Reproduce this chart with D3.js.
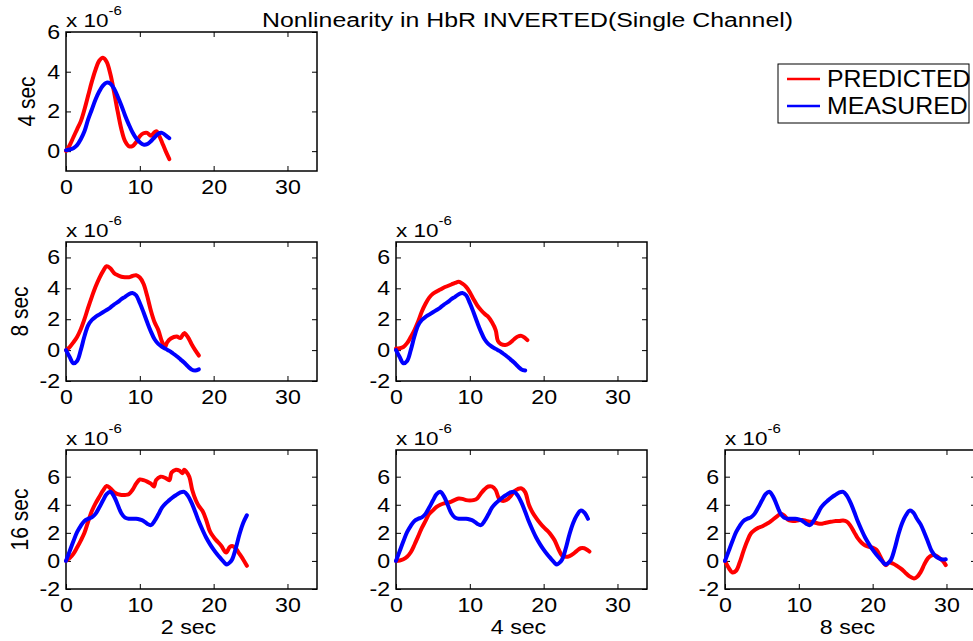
<!DOCTYPE html>
<html>
<head>
<meta charset="utf-8">
<script src="https://cdn.jsdelivr.net/npm/d3@7"></script>
<style>
  body { margin: 0; background: #fff; }
  text { font-family: "Liberation Sans", Arial, sans-serif; fill: #000; }
</style>
</head>
<body>
<script>
// row / column labels
let rowLabels = ['4 sec', '8 sec', '16 sec'];
let colLabels = ['2 sec', '4 sec', '8 sec'];
let xTicks = [0, 10, 20, 30];
let yTicksByRow = [[0, 2, 4, 6], [-2, 0, 2, 4, 6], [-2, 0, 2, 4, 6]];
let seriesNames = ['PREDICTED', 'MEASURED'];

// [time (s), value (x 1e-6)]
let pred4 = [[0,0],[0.5,0.3],[1,0.7],[1.5,1.1],[2,1.5],[2.5,2.1],[3,2.8],[3.5,3.5],[4,4.1],[4.5,4.55],[5,4.7],[5.5,4.5],[6,3.9],[6.5,3.0],[7,2.0],[7.5,1.1],[8,0.5],[8.5,0.25],[9,0.25],[9.5,0.45],[10,0.75],[10.5,0.9],[11,0.92],[11.5,0.78],[12,0.95],[12.3,1.0],[12.6,0.8],[13,0.45],[13.5,0.0],[14,-0.4]];
let meas4 = [[0,0.05],[0.5,0.08],[1,0.15],[1.5,0.3],[2,0.6],[2.5,1.0],[3,1.6],[3.5,2.1],[4,2.6],[4.5,3.0],[5,3.3],[5.5,3.45],[6,3.4],[6.5,3.15],[7,2.75],[7.5,2.3],[8,1.8],[8.5,1.35],[9,0.95],[9.5,0.65],[10,0.45],[10.5,0.33],[11,0.35],[11.5,0.5],[12,0.7],[12.5,0.88],[13,0.92],[13.5,0.8],[14,0.65]];

let pred8a = [[0,0],[0.5,0.2],[1,0.5],[1.5,0.85],[2,1.35],[2.5,2.0],[3,2.75],[3.5,3.45],[4,4.1],[4.5,4.65],[5,5.1],[5.5,5.43],[6,5.3],[6.5,5.0],[7,4.85],[7.5,4.75],[8,4.72],[8.5,4.72],[9,4.8],[9.5,4.85],[10,4.7],[10.5,4.3],[11,3.5],[11.5,2.55],[12,1.8],[12.5,1.3],[13,0.55],[13.4,0.2],[13.7,0.5],[14.2,0.75],[15,0.88],[15.5,0.78],[16,1.1],[16.5,0.85],[17,0.4],[17.5,0.0],[18,-0.35]];
let pred8b = [[0,0.1],[0.5,0.12],[1,0.2],[1.5,0.45],[2,0.85],[2.5,1.3],[3,1.85],[3.5,2.5],[4,3.0],[4.5,3.4],[5,3.65],[5.5,3.8],[6,3.92],[6.5,4.05],[7,4.15],[7.5,4.25],[8,4.35],[8.5,4.42],[9,4.3],[9.5,4.1],[10,3.75],[10.5,3.3],[11,2.9],[11.5,2.6],[12,2.35],[12.5,2.15],[13,1.8],[13.5,1.3],[13.8,0.6],[14.2,0.4],[14.8,0.33],[15.3,0.42],[16,0.7],[16.5,0.88],[17,0.92],[17.5,0.78],[17.8,0.65]];
let meas8 = [[0,0],[0.5,-0.45],[1,-0.85],[1.5,-0.7],[2,0.0],[2.5,0.9],[3,1.6],[3.5,1.95],[4,2.15],[4.5,2.3],[5,2.45],[5.5,2.6],[6,2.75],[6.5,2.95],[7,3.1],[7.5,3.3],[8,3.45],[8.5,3.62],[9,3.7],[9.5,3.55],[10,3.05],[10.5,2.45],[11,1.8],[11.5,1.2],[12,0.7],[12.5,0.4],[13,0.22],[13.5,0.08],[14,-0.05],[14.5,-0.22],[15,-0.4],[15.5,-0.6],[16,-0.8],[16.5,-1.05],[17,-1.25],[17.5,-1.32],[18,-1.25]];

let pred16a = [[0,0],[0.5,0.2],[1,0.5],[1.5,0.95],[2,1.45],[2.5,2.0],[3,2.8],[3.5,3.55],[4,4.1],[4.5,4.55],[5,5.0],[5.5,5.34],[6,5.17],[6.5,4.9],[7,4.75],[7.5,4.7],[8,4.7],[8.5,4.75],[9,5.05],[9.5,5.5],[10,5.8],[10.5,5.75],[11,5.65],[11.5,5.5],[11.9,5.3],[12.2,5.75],[12.8,6.0],[13.5,5.9],[14,5.75],[14.3,6.3],[14.9,6.5],[15.4,6.42],[15.8,6.25],[16,6.5],[16.3,6.35],[16.7,6.0],[17.1,5.05],[17.6,4.3],[18,3.9],[18.5,3.55],[19,2.9],[19.5,2.1],[20,1.7],[20.3,1.5],[21,1.1],[21.7,0.6],[22.2,1.0],[22.6,1.05],[23,0.9],[23.5,0.5],[24,0.1],[24.5,-0.35]];
let pred16b = [[0,0],[0.5,0.03],[1,0.12],[1.5,0.3],[2,0.62],[2.5,1.15],[3,1.75],[3.5,2.35],[4,2.85],[4.5,3.35],[5,3.6],[5.5,3.85],[6,4.0],[6.5,4.1],[7,4.15],[7.5,4.23],[8,4.35],[8.5,4.45],[9,4.42],[9.5,4.33],[10,4.3],[10.5,4.33],[11,4.45],[11.5,4.8],[12,5.1],[12.5,5.3],[13,5.3],[13.5,5.05],[13.9,4.5],[14.4,4.28],[15,4.35],[15.5,4.6],[16,4.95],[16.5,5.12],[17,5.17],[17.5,4.9],[18,4.0],[18.5,3.45],[19,3.05],[19.5,2.7],[20,2.4],[20.5,2.15],[21,1.85],[21.5,1.45],[22,0.85],[22.5,0.38],[23,0.3],[23.5,0.35],[24,0.5],[24.5,0.72],[25,0.9],[25.5,0.9],[26,0.75],[26.2,0.67]];
let pred16c = [[0,0],[0.5,-0.5],[1,-0.82],[1.5,-0.7],[2,-0.1],[2.5,0.7],[3,1.4],[3.5,1.95],[4,2.2],[4.5,2.35],[5,2.45],[5.5,2.6],[6,2.75],[6.5,2.95],[7,3.15],[7.5,3.35],[8,3.25],[8.5,2.95],[9,2.85],[9.5,2.85],[10,2.9],[10.5,2.92],[11,2.85],[11.5,2.8],[12,2.75],[12.5,2.68],[13,2.64],[13.5,2.7],[14,2.76],[14.5,2.8],[15,2.84],[15.5,2.85],[16,2.88],[16.5,2.8],[17,2.5],[17.5,2.05],[18,1.6],[18.5,1.3],[19,1.1],[19.5,1.0],[20,0.95],[20.5,0.8],[21,0.35],[21.5,-0.15],[21.8,-0.3],[22.2,-0.12],[22.8,-0.2],[23.3,-0.36],[24,-0.62],[24.5,-0.88],[25,-1.1],[25.6,-1.25],[26,-1.15],[26.5,-0.8],[27,-0.25],[27.5,0.2],[28,0.4],[28.5,0.4],[29,0.22],[29.5,0.0],[29.9,-0.3]];
let meas16 = [[0,0],[0.5,0.7],[1,1.4],[1.5,2.05],[2,2.5],[2.5,2.85],[3,3.0],[3.5,3.1],[4,3.35],[4.5,3.8],[5,4.3],[5.5,4.75],[6,4.92],[6.5,4.6],[7,4.0],[7.5,3.4],[8,3.08],[8.5,3.0],[9,3.0],[9.5,3.0],[10,2.95],[10.5,2.85],[11,2.65],[11.5,2.55],[12,2.85],[12.5,3.3],[13,3.8],[13.5,4.1],[14,4.33],[14.5,4.55],[15,4.72],[15.5,4.88],[16,4.92],[16.5,4.65],[17,4.15],[17.5,3.5],[18,2.8],[18.5,2.2],[19,1.65],[19.5,1.2],[20,0.8],[20.5,0.45],[21,0.15],[21.5,-0.15],[21.8,-0.25],[22.2,-0.1],[22.5,0.1],[23,0.9],[23.5,1.9],[24,2.7],[24.5,3.25],[25,3.58],[25.5,3.45],[26,3.0],[26.5,2.6],[27,2.0],[27.5,1.35],[28,0.7],[28.5,0.35],[29,0.18],[29.5,0.1],[29.9,0.12]];

let panels = [
    {row: 0, col: 0, pred: pred4, meas: meas4},
    {row: 1, col: 0, pred: pred8a, meas: meas8},
    {row: 1, col: 1, pred: pred8b, meas: meas8},
    {row: 2, col: 0, pred: pred16a, meas: meas16},
    {row: 2, col: 1, pred: pred16b, meas: meas16},
    {row: 2, col: 2, pred: pred16c, meas: meas16},
];

let svgWidth = 973, svgHeight = 641;
let colX = [66, 396, 725], rowY = [32, 242, 450];
let pw = 251, ph = 139;
let yDomains = [[-1, 6], [-2, 7], [-2, 7.9]];
let colors = ['#ff0000', '#0000ff'];
let font = '"Liberation Sans", Arial, sans-serif';
let sx = 1.16; // text in the reference is a bit wide

let svg = d3.select('body').append('svg')
    .attr('width', svgWidth).attr('height', svgHeight);
svg.append('rect').attr('width', svgWidth).attr('height', svgHeight).attr('fill', '#fff');

function styleAxis(ax) {
    ax.attr('font-size', 20).attr('font-family', font);
    ax.select('.domain').remove();
    ax.selectAll('line').attr('stroke', '#000').attr('stroke-width', 1);
    ax.selectAll('text').attr('transform', 'scale(' + sx + ',1)');
}

panels.forEach(p => {
    let x = d3.scaleLinear().domain([0, 34]).range([0, pw]);
    let y = d3.scaleLinear().domain(yDomains[p.row]).range([ph, 0]);
    let g = svg.append('g')
        .attr('transform', 'translate(' + colX[p.col] + ',' + rowY[p.row] + ')');

    let fmt = d => String(d);
    styleAxis(g.append('g').attr('transform', 'translate(0,' + ph + ')')
        .call(d3.axisBottom(x).tickValues(xTicks).tickSize(-5).tickPadding(9).tickFormat(fmt)));
    styleAxis(g.append('g')
        .call(d3.axisTop(x).tickValues(xTicks).tickSize(-5).tickFormat('')));
    styleAxis(g.append('g')
        .call(d3.axisLeft(y).tickValues(yTicksByRow[p.row]).tickSize(-5).tickPadding(5).tickFormat(fmt)));
    styleAxis(g.append('g').attr('transform', 'translate(' + pw + ',0)')
        .call(d3.axisRight(y).tickValues(yTicksByRow[p.row]).tickSize(-5).tickFormat('')));

    g.append('rect').attr('width', pw).attr('height', ph)
        .attr('fill', 'none').attr('stroke', '#000').attr('stroke-width', 1.5);

    let tEnd = d3.max(p.pred, d => d[0]);
    let line = d3.line().x(d => x(d[0])).y(d => y(d[1])).curve(d3.curveCatmullRom);
    [p.pred, p.meas.filter(d => d[0] <= tEnd + 0.01)].forEach((s, i) => {
        g.append('path').attr('d', line(s))
            .attr('fill', 'none').attr('stroke', colors[i])
            .attr('stroke-width', 4).attr('stroke-linejoin', 'round').attr('stroke-linecap', 'round');
    });

    // exponent label
    let ex = g.append('text').attr('transform', 'translate(0,-5) scale(1.25,1)')
        .attr('font-size', 18);
    ex.append('tspan').text('x 10');
    ex.append('tspan').attr('dy', -12).attr('font-size', 12).text('-6');

    if (p.col === 0) {
        let lx = p.row === 0 ? -31 : -38;
        g.append('text')
            .attr('transform', 'translate(' + lx + ',' + (ph / 2) + ') scale(' + sx + ',1) rotate(-90)')
            .attr('text-anchor', 'middle').attr('font-size', 21)
            .text(rowLabels[p.row]);
    }
    if (p.row === 2) {
        g.append('text')
            .attr('transform', 'translate(' + (pw / 2 - 3) + ',' + (ph + 45) + ') scale(' + sx + ',1)')
            .attr('text-anchor', 'middle').attr('font-size', 20)
            .text(colLabels[p.col]);
    }
});

// title
svg.append('text').attr('x', 262).attr('y', 27)
    .attr('font-size', 20).attr('textLength', 531).attr('lengthAdjust', 'spacingAndGlyphs')
    .text('Nonlinearity in HbR INVERTED(Single Channel)');

// legend
let leg = svg.append('g').attr('transform', 'translate(778,64)');
leg.append('rect').attr('width', 191).attr('height', 59)
    .attr('fill', '#fff').attr('stroke', '#000').attr('stroke-width', 1);
seriesNames.forEach((name, i) => {
    let yy = 15 + i * 27;
    leg.append('line').attr('x1', 9).attr('x2', 42).attr('y1', yy).attr('y2', yy)
        .attr('stroke', colors[i]).attr('stroke-width', 2.5);
    leg.append('text').attr('transform', 'translate(49,' + (yy + 8) + ') scale(1.08,1)')
        .attr('font-size', 23).text(name);
});
</script>
</body>
</html>
